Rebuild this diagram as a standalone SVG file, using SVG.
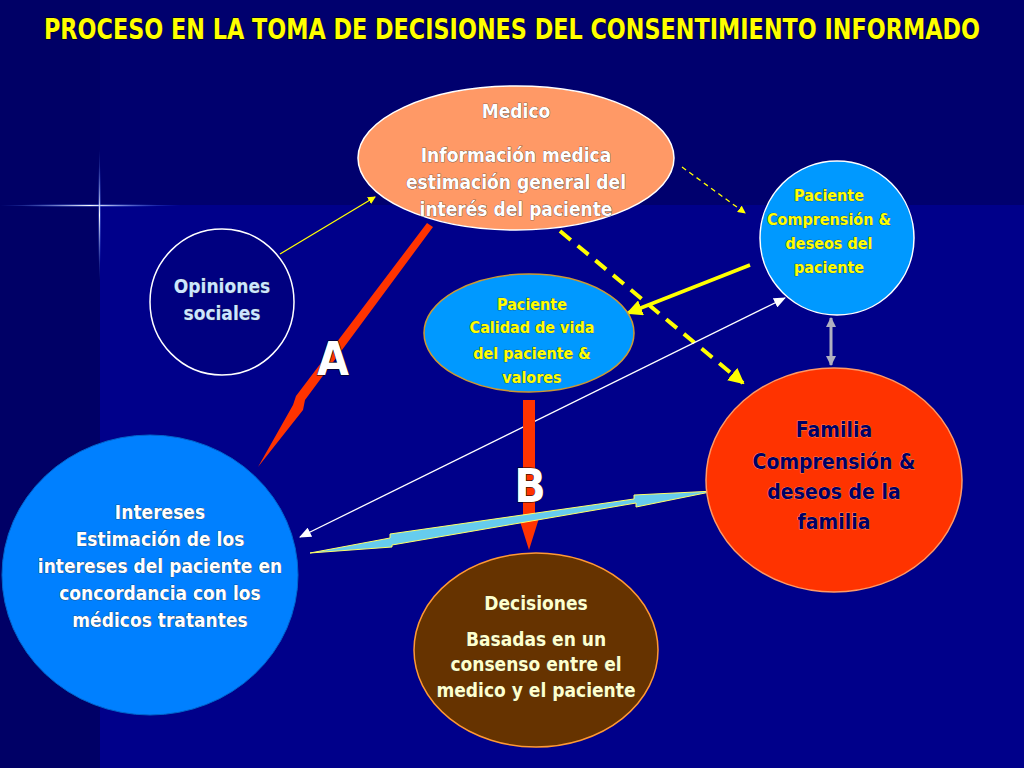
<svg xmlns="http://www.w3.org/2000/svg" width="1024" height="768" viewBox="0 0 1024 768">
<defs>
<style>
text{font-family:"DejaVu Sans Condensed","Liberation Sans",sans-serif;font-weight:bold;text-anchor:middle}
.w{fill:#fff;font-size:19px}
.y{fill:#ffff00;font-size:16px}
.sh{stroke:#333;stroke-width:0.6;paint-order:stroke}
</style>
<marker id="ay" markerWidth="8" markerHeight="8" refX="7" refY="4" orient="auto" markerUnits="userSpaceOnUse"><path d="M0,0L8,4L0,8z" fill="#ffff00"/></marker>
<marker id="ay2" markerWidth="16" markerHeight="16" refX="14" refY="8" orient="auto" markerUnits="userSpaceOnUse"><path d="M0,0L16,8L0,16z" fill="#ffff00"/></marker>
<marker id="aw" markerWidth="12" markerHeight="10" refX="11" refY="5" orient="auto-start-reverse" markerUnits="userSpaceOnUse"><path d="M0,0L12,5L0,10z" fill="#fff"/></marker>
<marker id="ag" markerWidth="10" markerHeight="10" refX="9" refY="5" orient="auto-start-reverse" markerUnits="userSpaceOnUse"><path d="M0,0L10,5L0,10z" fill="#b0b0c0"/></marker>
<radialGradient id="star"><stop offset="0" stop-color="#fff"/><stop offset="1" stop-color="#3366ff" stop-opacity="0"/></radialGradient>
</defs>
<rect width="1024" height="768" fill="#000066"/>
<rect x="100" y="205" width="924" height="563" fill="#00008a"/>
<rect x="100" y="0" width="924" height="205" fill="#00006e"/>
<rect x="0" y="204" width="180" height="3" fill="url(#star)"/>
<rect x="98" y="150" width="3" height="130" fill="url(#star)"/>
<text x="512" y="39" fill="#ffff00" font-size="29" textLength="936" lengthAdjust="spacingAndGlyphs" stroke="#000" stroke-width="1" paint-order="stroke">PROCESO EN LA TOMA DE DECISIONES DEL CONSENTIMIENTO INFORMADO</text>
<g id="connectors">
<line x1="280" y1="254" x2="375" y2="197" stroke="#ffff00" stroke-width="1.3" marker-end="url(#ay)"/>
<line x1="682" y1="167" x2="745" y2="213" stroke="#ffff00" stroke-width="1.3" stroke-dasharray="5,4" marker-end="url(#ay)"/>
<line x1="560" y1="231" x2="743" y2="383" stroke="#ffff00" stroke-width="4" stroke-dasharray="14,9" marker-end="url(#ay2)"/>
<line x1="750" y1="265" x2="628" y2="313" stroke="#ffff00" stroke-width="3.5" marker-end="url(#ay2)"/>
<line x1="300" y1="537" x2="785" y2="298" stroke="#fff" stroke-width="1.3" marker-start="url(#aw)" marker-end="url(#aw)"/>
<line x1="831" y1="318" x2="831" y2="365" stroke="#b0b0c0" stroke-width="3" marker-start="url(#ag)" marker-end="url(#ag)"/>
<polygon points="427,223 433,227 305,400 303,410 258,467 293,405 296,396" fill="#ff3300"/>
<polygon points="523,400 535,400 535,515 540,515 529,550 518,515 523,515" fill="#ff3300"/>
<polygon points="310,553 390,538 390,534 634,499 634,495 715,491 636,507 636,503 392,545 392,547" fill="#66ccee" stroke="#ffff66" stroke-width="1"/>
<text x="333" y="375" fill="#fff" font-size="46" stroke="#000" stroke-width="1" paint-order="stroke">A</text>
<text x="530" y="502" fill="#fff" font-size="46" stroke="#000" stroke-width="1" paint-order="stroke">B</text>
</g>
<g id="medico">
<ellipse cx="516" cy="158" rx="158" ry="72" fill="#ff9966" stroke="#fff" stroke-width="1.5"/>
<text class="w sh" y="118"><tspan x="516">Medico</tspan><tspan x="516" y="162">Información  medica</tspan><tspan x="516" y="189">estimación general del</tspan><tspan x="516" y="216">interés del paciente</tspan></text>
</g>
<g id="paciente-deseos">
<ellipse cx="837" cy="238" rx="77" ry="77" fill="#0099ff" stroke="#fff" stroke-width="1.5"/>
<text class="y sh" y="201"><tspan x="829">Paciente</tspan><tspan x="829" y="225">Comprensión  &amp;</tspan><tspan x="829" y="249">deseos del</tspan><tspan x="829" y="273">paciente</tspan></text>
</g>
<g id="opiniones">
<ellipse cx="222" cy="302" rx="72" ry="73" fill="#000080" stroke="#fff" stroke-width="1.5"/>
<text fill="#cce6ff" font-size="19" class="sh" y="293"><tspan x="222">Opiniones</tspan><tspan x="222" y="320">sociales</tspan></text>
</g>
<g id="paciente-calidad">
<ellipse cx="529" cy="333" rx="105" ry="59" fill="#0099ff" stroke="#cc9933" stroke-width="1.5"/>
<text class="y sh" y="310"><tspan x="532">Paciente</tspan><tspan x="532" y="333">Calidad de vida</tspan><tspan x="532" y="359">del paciente  &amp;</tspan><tspan x="532" y="383">valores</tspan></text>
</g>
<g id="familia">
<ellipse cx="834" cy="480" rx="128" ry="112" fill="#ff3300" stroke="#ff9966" stroke-width="1.5"/>
<text fill="#000066" font-size="21" y="437" stroke="#ffcc99" stroke-width="0.5" paint-order="stroke"><tspan x="834">Familia</tspan><tspan x="834" y="469">Comprensión  &amp;</tspan><tspan x="834" y="499">deseos de la</tspan><tspan x="834" y="529">familia</tspan></text>
</g>
<g id="intereses">
<ellipse cx="150" cy="575" rx="148" ry="140" fill="#0080ff" stroke="#0066cc" stroke-width="1"/>
<text class="w sh" y="519"><tspan x="160">Intereses</tspan><tspan x="160" y="546">Estimación de los</tspan><tspan x="160" y="573">intereses del paciente en</tspan><tspan x="160" y="600">concordancia con los</tspan><tspan x="160" y="627">médicos tratantes</tspan></text>
</g>
<g id="decisiones">
<ellipse cx="536" cy="650" rx="122" ry="97" fill="#663300" stroke="#ff9933" stroke-width="1.5"/>
<text fill="#ffffcc" font-size="19" class="sh" y="610"><tspan x="536">Decisiones</tspan><tspan x="536" y="646">Basadas en un</tspan><tspan x="536" y="671">consenso entre el</tspan><tspan x="536" y="697">medico y el paciente</tspan></text>
</g>
</svg>
